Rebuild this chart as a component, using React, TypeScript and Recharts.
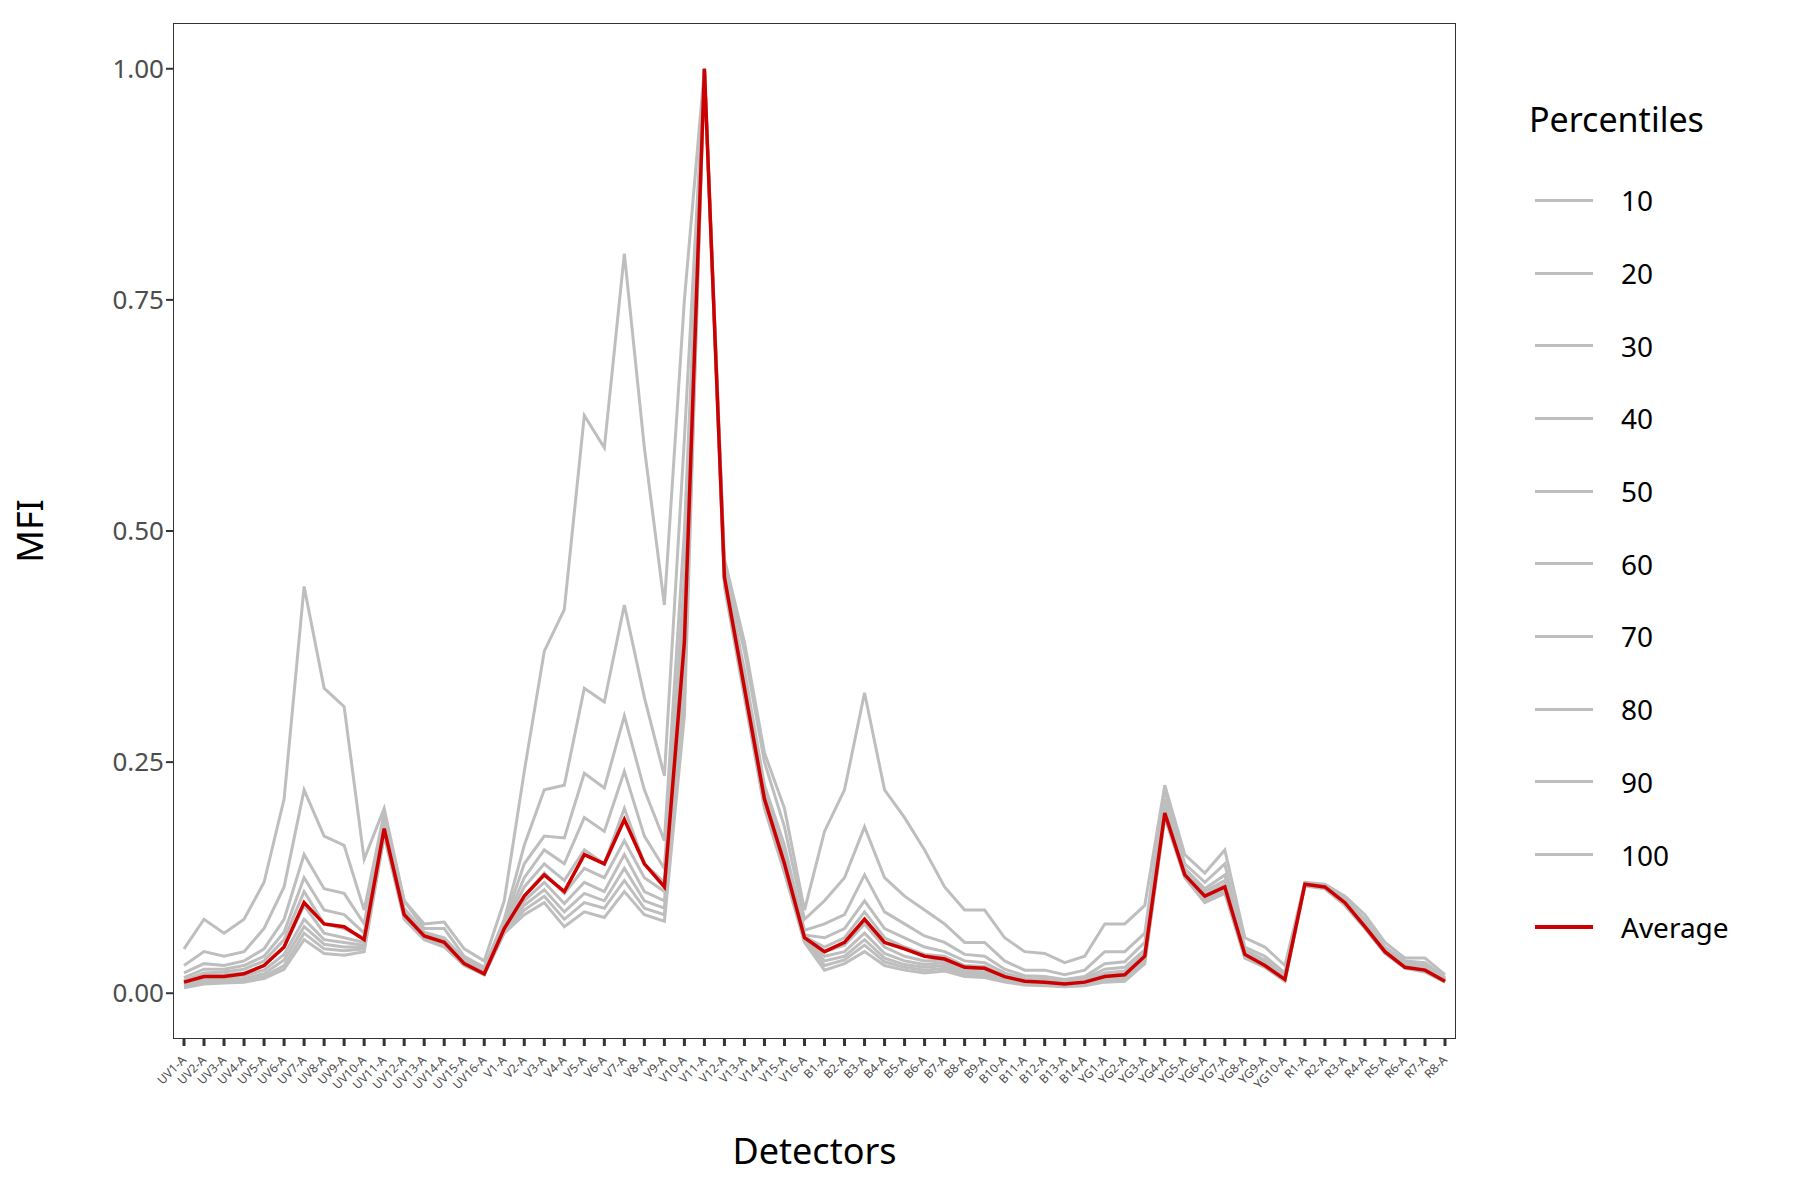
import React from 'react';
import { LineChart, Line, XAxis, YAxis } from 'recharts';

const detectors = [
  'UV1-A', 'UV2-A', 'UV3-A', 'UV4-A', 'UV5-A', 'UV6-A', 'UV7-A', 'UV8-A', 'UV9-A', 'UV10-A', 'UV11-A', 'UV12-A', 'UV13-A', 'UV14-A', 'UV15-A', 'UV16-A',
  'V1-A', 'V2-A', 'V3-A', 'V4-A', 'V5-A', 'V6-A', 'V7-A', 'V8-A', 'V9-A', 'V10-A', 'V11-A', 'V12-A', 'V13-A', 'V14-A', 'V15-A', 'V16-A',
  'B1-A', 'B2-A', 'B3-A', 'B4-A', 'B5-A', 'B6-A', 'B7-A', 'B8-A', 'B9-A', 'B10-A', 'B11-A', 'B12-A', 'B13-A', 'B14-A',
  'YG1-A', 'YG2-A', 'YG3-A', 'YG4-A', 'YG5-A', 'YG6-A', 'YG7-A', 'YG8-A', 'YG9-A', 'YG10-A',
  'R1-A', 'R2-A', 'R3-A', 'R4-A', 'R5-A', 'R6-A', 'R7-A', 'R8-A',
];

const p10 = [.006, .01, .011, .012, .016, .026, .058, .043, .041, .045, .17, .08, .058, .05, .03, .02,
  .065, .085, .098, .072, .088, .082, .11, .085, .078, .3, 1, .44, .32, .2, .13, .055,
  .025, .032, .045, .03, .025, .022, .024, .018, .017, .012, .009, .008, .007, .008,
  .012, .013, .032, .19, .125, .098, .108, .038, .028, .013,
  .116, .113, .095, .07, .043, .027, .023, .012];
const p20 = [.008, .012, .013, .014, .018, .03, .065, .048, .046, .048, .172, .082, .059, .051, .031, .02,
  .066, .09, .105, .08, .098, .092, .122, .092, .085, .32, 1, .445, .325, .203, .133, .056,
  .03, .036, .052, .034, .028, .025, .027, .02, .019, .013, .01, .009, .008, .009,
  .014, .015, .034, .192, .126, .1, .11, .039, .029, .014,
  .117, .114, .096, .071, .044, .028, .024, .012];
const p30 = [.009, .014, .015, .016, .021, .036, .072, .053, .05, .05, .174, .083, .06, .052, .032, .021,
  .068, .095, .112, .088, .108, .1, .135, .1, .092, .34, 1, .447, .328, .206, .136, .057,
  .035, .04, .058, .038, .031, .028, .03, .022, .021, .014, .011, .01, .009, .01,
  .016, .017, .036, .194, .127, .101, .112, .04, .03, .014,
  .117, .114, .097, .072, .044, .028, .024, .013];
const p40 = [.01, .016, .017, .019, .025, .042, .08, .058, .055, .052, .176, .084, .061, .053, .032, .021,
  .069, .1, .12, .097, .12, .11, .15, .11, .1, .36, 1, .449, .33, .208, .138, .058,
  .04, .045, .065, .043, .035, .031, .033, .024, .023, .015, .012, .011, .01, .011,
  .018, .019, .038, .196, .128, .103, .114, .041, .031, .015,
  .118, .115, .098, .073, .045, .029, .025, .013];
const p50 = [.012, .019, .02, .022, .03, .05, .095, .065, .06, .055, .178, .085, .062, .054, .033, .022,
  .07, .105, .13, .108, .135, .125, .165, .125, .11, .38, 1, .451, .333, .211, .14, .059,
  .045, .052, .075, .05, .04, .035, .036, .027, .026, .017, .013, .012, .011, .012,
  .02, .021, .04, .198, .129, .105, .116, .042, .032, .016,
  .118, .115, .099, .074, .046, .03, .026, .014];
const p60 = [.014, .022, .023, .026, .035, .058, .11, .075, .07, .06, .18, .086, .063, .055, .034, .023,
  .072, .115, .14, .122, .155, .14, .2, .14, .12, .41, 1, .453, .336, .214, .145, .061,
  .05, .06, .088, .06, .05, .042, .04, .03, .029, .019, .014, .013, .012, .014,
  .022, .024, .043, .2, .13, .107, .118, .043, .033, .017,
  .118, .115, .1, .075, .047, .031, .027, .015];
const p70 = [.017, .026, .026, .03, .04, .066, .125, .09, .085, .065, .184, .088, .064, .057, .035, .024,
  .074, .125, .155, .14, .19, .175, .24, .17, .135, .45, 1, .455, .34, .218, .15, .063,
  .06, .07, .1, .07, .06, .05, .045, .035, .033, .022, .016, .015, .013, .016,
  .026, .028, .047, .205, .132, .11, .122, .045, .034, .018,
  .118, .116, .1, .076, .048, .032, .028, .015];
const p80 = [.022, .032, .03, .035, .048, .08, .15, .113, .108, .075, .19, .092, .066, .06, .037, .025,
  .076, .14, .17, .168, .238, .222, .3, .22, .165, .5, 1, .457, .35, .225, .16, .068,
  .075, .085, .128, .088, .075, .062, .055, .042, .04, .026, .019, .018, .015, .018,
  .032, .034, .055, .21, .135, .113, .128, .047, .036, .019,
  .118, .116, .101, .078, .049, .033, .03, .016];
const p90 = [.03, .045, .04, .045, .07, .115, .22, .17, .16, .09, .195, .1, .07, .07, .04, .028,
  .08, .16, .22, .225, .33, .315, .42, .32, .235, .6, 1, .46, .37, .25, .18, .08,
  .1, .125, .18, .125, .105, .09, .075, .055, .055, .035, .025, .025, .02, .025,
  .045, .045, .065, .22, .14, .12, .14, .05, .04, .022,
  .118, .116, .102, .08, .05, .035, .033, .017];
const p100 = [.048, .08, .065, .08, .12, .21, .44, .33, .31, .145, .2, .1, .075, .077, .048, .035,
  .1, .24, .37, .415, .625, .59, .8, .59, .42, .75, 1, .47, .38, .26, .2, .09,
  .175, .22, .325, .22, .19, .155, .115, .09, .09, .06, .045, .043, .033, .04,
  .075, .075, .095, .225, .15, .13, .155, .06, .05, .03,
  .12, .118, .105, .085, .055, .038, .038, .02];
const average = [.012, .018, .018, .021, .03, .05, .098, .075, .072, .058, .178, .085, .062, .055, .032, .021,
  .07, .105, .128, .11, .15, .14, .188, .14, .115, .38, 1, .45, .33, .21, .14, .06,
  .045, .055, .08, .055, .048, .04, .037, .028, .027, .018, .013, .012, .01, .012,
  .018, .02, .04, .195, .128, .105, .115, .042, .03, .015,
  .118, .115, .098, .072, .045, .028, .025, .013];

const percentileNames = ['10', '20', '30', '40', '50', '60', '70', '80', '90', '100'];
const percentileSeries = [p10, p20, p30, p40, p50, p60, p70, p80, p90, p100];
const yTicks = [0, 0.25, 0.5, 0.75, 1];

const data = detectors.map((d, i) => {
  const row: any = { detector: d, Average: average[i] };
  percentileNames.forEach((n, k) => { row['p' + n] = percentileSeries[k][i]; });
  return row;
});

const FONT = '"Noto Sans", "Open Sans", sans-serif';
const GREY = '#bebebe';
const RED = '#cc0000';

const LegendBox = () => (
  <div style={{ position: 'absolute', left: 1529, top: 96, width: 260, fontFamily: FONT, color: '#000' }}>
    <div style={{ fontSize: 34, marginBottom: 22 }}>Percentiles</div>
    {[...percentileNames, 'Average'].map((n) => (
      <div key={n} style={{ display: 'flex', alignItems: 'center', height: 72.7 }}>
        <div style={{ width: 58, height: n === 'Average' ? 3.5 : 3, background: n === 'Average' ? RED : GREY, marginLeft: 6, marginRight: 28 }} />
        <span style={{ fontSize: 28 }}>{n}</span>
      </div>
    ))}
  </div>
);

const XTick = (props: any) => {
  const { x, y, payload } = props;
  return (
    <g transform={`translate(${x},${y + 10})`}>
      <text transform="rotate(-45)" textAnchor="end" dy={4} fontSize={12} fill="#4d4d4d" fontFamily={FONT}>
        {payload.value}
      </text>
    </g>
  );
};

export default function App() {
  return (
    <div style={{ position: 'absolute', left: 0, top: 0, width: 1800, height: 1200, background: '#fff' }}>
      <LineChart width={1800} height={1200} data={data} margin={{ top: 23, right: 344, bottom: 0, left: 0 }}>
        <XAxis
          dataKey="detector"
          interval={0}
          height={161}
          padding={{ left: 11, right: 11 }}
          axisLine={false}
          tickLine={{ stroke: '#333', strokeWidth: 3 }}
          tickSize={7}
          tick={<XTick />}
          label={{ value: 'Detectors', position: 'insideBottom', offset: 36, style: { fontSize: 36, fill: '#000', fontFamily: FONT } }}
        />
        <YAxis
          width={173}
          domain={[-0.0495, 1.0495]}
          ticks={yTicks}
          axisLine={false}
          tickLine={{ stroke: '#333', strokeWidth: 2 }}
          tickSize={7}
          tickFormatter={(v: number) => v.toFixed(2)}
          tick={{ fontSize: 26, fill: '#4d4d4d', fontFamily: FONT }}
          label={{ value: 'MFI', angle: -90, position: 'insideLeft', offset: 30, style: { fontSize: 36, fill: '#000', fontFamily: FONT, textAnchor: 'middle' } }}
        />
        {percentileNames.map((n) => (
          <Line key={n} dataKey={'p' + n} name={n} stroke={GREY} strokeWidth={3} dot={false} isAnimationActive={false} />
        ))}
        <Line dataKey="Average" name="Average" stroke={RED} strokeWidth={3.5} dot={false} isAnimationActive={false} />
      </LineChart>
      <div style={{ position: 'absolute', left: 173, top: 23, width: 1283, height: 1016, border: '1.5px solid #333', boxSizing: 'border-box', pointerEvents: 'none' }} />
      <LegendBox />
    </div>
  );
}
